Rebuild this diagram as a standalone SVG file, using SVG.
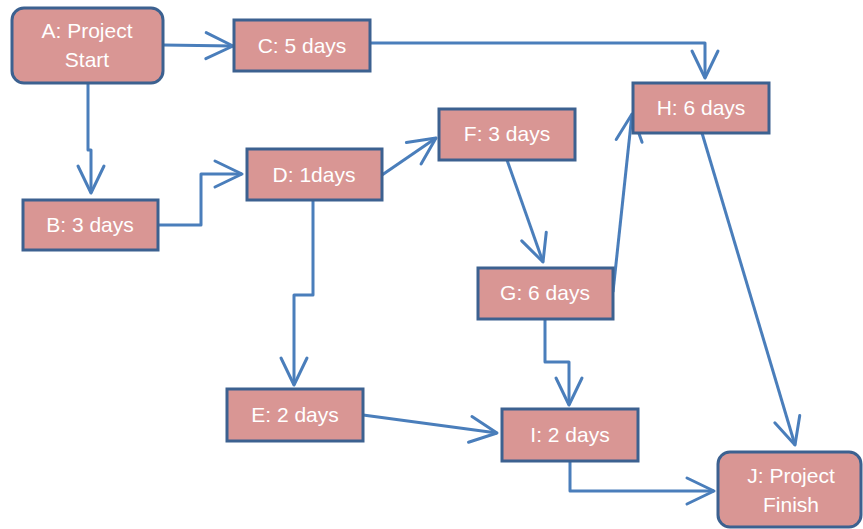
<svg xmlns="http://www.w3.org/2000/svg" width="863" height="529" viewBox="0 0 863 529">
<style>
.n{fill:#d99694;stroke:#3c6190;stroke-width:3}
.t{fill:#ffffff;font-family:"Liberation Sans",Arial,sans-serif;font-size:21px;text-anchor:middle}
.c{fill:none;stroke:#4a7ebb;stroke-width:3;stroke-linejoin:round;marker-end:url(#ar)}
</style>
<defs>
<marker id="ar" viewBox="-30 -16 34 32" refX="0" refY="0" markerWidth="34" markerHeight="32" orient="auto" markerUnits="userSpaceOnUse">
<path d="M-27,-13 L0,0 L-27,13" fill="none" stroke="#4a7ebb" stroke-width="3" stroke-linecap="round" stroke-linejoin="round"/>
</marker>
</defs>
<g id="connectors">
<path class="c" d="M163,45 L233,46"/>
<path class="c" d="M88,84 L88,150 L91,150 L91,193"/>
<path class="c" d="M158,225 L201,225 L201,174 L242,174"/>
<path class="c" d="M370,43 L705,43 L705,78"/>
<path class="c" d="M382,175 L436,138"/>
<path class="c" d="M507,160 L543,262"/>
<path class="c" d="M613,292 L632,114"/>
<path class="c" d="M702,133 L795,445"/>
<path class="c" d="M313,200 L313,295 L294,295 L294,385"/>
<path class="c" d="M363,415 L497,433"/>
<path class="c" d="M545,319 L545,362 L569,362 L569,405"/>
<path class="c" d="M570,461 L570,491 L714,491"/>
</g>
<g id="A"><rect class="n" x="12" y="8" width="151" height="75" rx="12"/><text class="t" x="87" y="38">A: Project</text><text class="t" x="87" y="67">Start</text></g>
<g id="C"><rect class="n" x="234" y="20" width="136" height="51"/><text class="t" x="302" y="53">C: 5 days</text></g>
<g id="B"><rect class="n" x="23" y="200" width="135" height="50"/><text class="t" x="90" y="232">B: 3 days</text></g>
<g id="D"><rect class="n" x="247" y="149" width="135" height="51"/><text class="t" x="314" y="182">D: 1days</text></g>
<g id="F"><rect class="n" x="439" y="109" width="136" height="51"/><text class="t" x="507" y="141">F: 3 days</text></g>
<g id="H"><rect class="n" x="633" y="83" width="136" height="50"/><text class="t" x="701" y="115">H: 6 days</text></g>
<g id="G"><rect class="n" x="478" y="268" width="135" height="51"/><text class="t" x="545" y="300">G: 6 days</text></g>
<g id="E"><rect class="n" x="227" y="389" width="136" height="52"/><text class="t" x="295" y="422">E: 2 days</text></g>
<g id="I"><rect class="n" x="502" y="409" width="136" height="52"/><text class="t" x="570" y="442">I: 2 days</text></g>
<g id="J"><rect class="n" x="718" y="452" width="143" height="75" rx="12"/><text class="t" x="791" y="483">J: Project</text><text class="t" x="791" y="512">Finish</text></g>
</svg>
